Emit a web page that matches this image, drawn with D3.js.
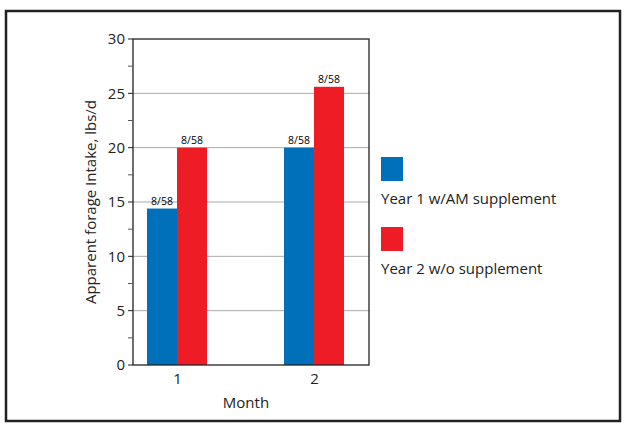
<!DOCTYPE html><html><head><script src="https://cdn.jsdelivr.net/npm/d3@7"></script>
<style>body{margin:0;background:#fff}text{font-family:"Open Sans",Lato,sans-serif}</style></head><body>
<svg id="c" width="628" height="426"></svg>
<script>
const months=["1","2"];
const seriesNames=["Year 1 w/AM supplement","Year 2 w/o supplement"];
const year1=[14.4,20];
const year2=[20,25.6];
const barLabels=["8/58","8/58"];
const colors=["#0070bb","#ee1c25"];
const svg=d3.select("#c");
svg.append("rect").attr("x",6).attr("y",11).attr("width",614).attr("height",410).attr("fill","none").attr("stroke","#222").attr("stroke-width",2.5);
const L=133,R=369,T=39,B=365;
const y=d3.scaleLinear().domain([0,30]).range([B,T]);
const x=d3.scalePoint().domain(months).range([177,314]);
const bw=30;
const g=svg.append("g");
g.selectAll(".gl").data(d3.range(5,30,5)).join("line").attr("x1",L).attr("x2",R).attr("y1",d=>y(d)).attr("y2",d=>y(d)).attr("stroke","#aaa").attr("stroke-width",1);
const data=[year1,year2];
data.forEach((s,i)=>{
  g.selectAll(".b"+i).data(s).join("rect").attr("x",(d,j)=>x(months[j])+(i-1)*bw).attr("width",bw).attr("y",d=>y(d)).attr("height",d=>B-y(d)).attr("fill",colors[i]);
  g.selectAll(".t"+i).data(s).join("text").attr("x",(d,j)=>x(months[j])+(i-0.5)*bw).attr("y",d=>y(d)-4).attr("text-anchor","middle").attr("font-size",10.5).text(barLabels[i]);
});
g.append("rect").attr("x",L).attr("y",T).attr("width",R-L).attr("height",B-T).attr("fill","none").attr("stroke","#222").attr("stroke-width",1.3);
const ya=svg.append("g").attr("transform",`translate(${L},0)`).call(d3.axisLeft(y).tickValues(d3.range(0,31,5)).tickSize(0).tickPadding(8));
ya.select(".domain").remove();ya.selectAll("text").attr("font-size",15).attr("fill","#222").style("font-family","'Open Sans',sans-serif");
svg.selectAll(".mt").data(d3.range(2.5,30,5)).join("line").attr("x1",L-5).attr("x2",L).attr("y1",d=>y(d)).attr("y2",d=>y(d)).attr("stroke","#555");
svg.selectAll(".mt2").data(d3.range(0,31,5)).join("line").attr("x1",L-5).attr("x2",L).attr("y1",d=>y(d)).attr("y2",d=>y(d)).attr("stroke","#222");
const xa=svg.append("g").attr("transform",`translate(0,${B})`).call(d3.axisBottom(x).tickSize(0).tickPadding(8));
xa.select(".domain").remove();xa.selectAll("text").attr("font-size",15).attr("fill","#222").style("font-family","'Open Sans',sans-serif");
svg.append("text").attr("x",246).attr("y",408).attr("text-anchor","middle").attr("font-size",15).attr("fill","#222").text("Month");
svg.append("text").attr("transform","translate(96,202) rotate(-90)").attr("text-anchor","middle").attr("font-size",15).attr("fill","#222").text("Apparent forage Intake, lbs/d");
seriesNames.forEach((n,i)=>{
  svg.append("rect").attr("x",381).attr("y",157+i*70).attr("width",22).attr("height",24).attr("fill",colors[i]);
  svg.append("text").attr("x",381).attr("y",204+i*70).attr("font-size",15).attr("fill","#222").text(n);
});
</script></body></html>
